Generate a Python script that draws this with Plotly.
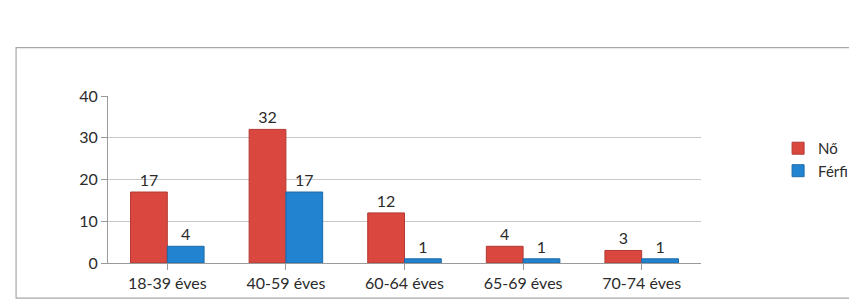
import plotly.graph_objects as go

categories = ["18-39 éves", "40-59 éves", "60-64 éves", "65-69 éves", "70-74 éves"]
no_values = [17, 32, 12, 4, 3]
ferfi_values = [4, 17, 1, 1, 1]
y_ticks = [0, 10, 20, 30, 40]

RED = "#D9473E"
BLUE = "#2283D0"
FONT = "Lato, 'Open Sans', sans-serif"

fig = go.Figure()
fig.add_trace(go.Bar(
    name="Nő", x=categories, y=no_values, marker=dict(color=RED, line=dict(color="#B23A33", width=1)),
    text=no_values, textposition="outside", cliponaxis=False,
    textfont=dict(size=16, color="#2B2B2B"),
))
fig.add_trace(go.Bar(
    name="Férfi", x=categories, y=ferfi_values, marker=dict(color=BLUE, line=dict(color="#1B6AA8", width=1)),
    text=ferfi_values, textposition="outside", cliponaxis=False,
    textfont=dict(size=16, color="#2B2B2B"),
))

fig.update_layout(
    width=857, height=304,
    margin=dict(l=100, r=157, t=88, b=49),
    paper_bgcolor="white", plot_bgcolor="white",
    barmode="group", bargap=0.38, bargroupgap=0.0,
    font=dict(family=FONT, size=16, color="#2B2B2B"),
    showlegend=True,
    legend=dict(x=1.13, y=0.62, xanchor="left", yanchor="middle",
                font=dict(size=15, color="#2B2B2B"), bgcolor="rgba(0,0,0,0)",
                itemwidth=30, tracegroupgap=6),
    shapes=[dict(type="rect", xref="paper", yref="paper",
                 x0=-0.155, x1=1.28, y0=-0.21, y1=1.29,
                 line=dict(color="#A8A8A8", width=1.2), layer="below")],
)
fig.update_xaxes(showgrid=False, showline=True, linecolor="#9A9A9A", linewidth=1,
                 ticks="outside", ticklen=6, tickcolor="#9A9A9A",
                 tickfont=dict(size=16, color="#2B2B2B"))
fig.update_yaxes(range=[0, 40], tickvals=y_ticks, showgrid=True, gridcolor="#C8C8C8",
                 gridwidth=1, showline=True, linecolor="#9A9A9A", ticks="outside",
                 ticklen=6, tickcolor="#9A9A9A", zeroline=False,
                 tickfont=dict(size=16, color="#2B2B2B"))

fig.write_html("out.html")
